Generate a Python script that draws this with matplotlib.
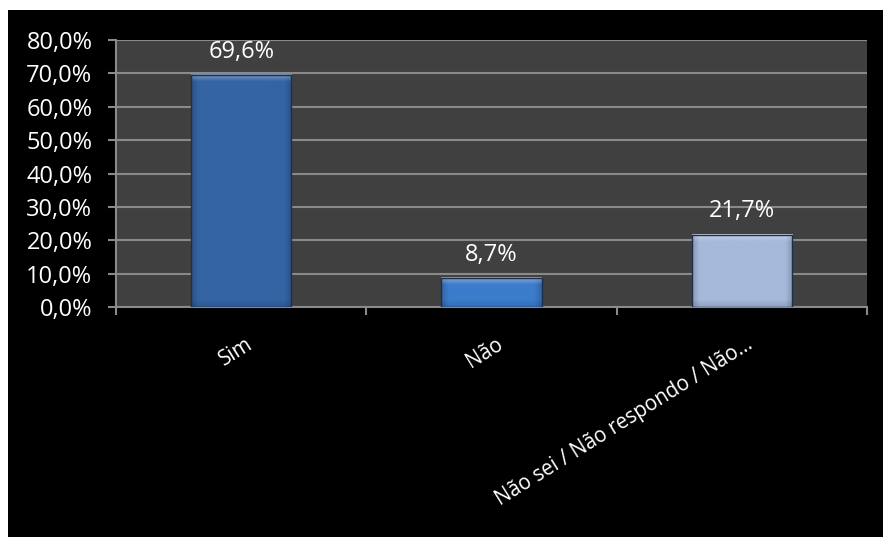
import numpy as np
import matplotlib
matplotlib.use("Agg")
import matplotlib.pyplot as plt
import matplotlib.transforms as mtransforms
from matplotlib.patches import Rectangle
from matplotlib.ticker import FuncFormatter, FixedLocator

plt.rcParams['font.family'] = ['Open Sans', 'DejaVu Sans']

# data
categories = ["Sim", "Não", "Não sei / Não respondo / Não…"]
values = [69.6, 8.7, 21.7]
bar_colors = ["#3464a3", "#3c7ccc", "#a6b9da"]

W, H, DPI = 883, 537, 100
fig = plt.figure(figsize=(W / DPI, H / DPI), dpi=DPI, facecolor="white")

# black chart area with thin white margin on top/left
bg = Rectangle((8 / W, 0), 1 - 8 / W, (H - 10) / H, transform=fig.transFigure,
               facecolor="black", edgecolor="none", zorder=-10)
fig.add_artist(bg)

ax = fig.add_axes([116 / W, 1 - 307 / H, (867 - 116) / W, (307 - 40) / H])
ax.set_facecolor("#404040")

x = np.arange(len(categories))
bars = ax.bar(x, values, width=0.4, color=bar_colors, zorder=3)

ax.set_xlim(-0.5, len(categories) - 0.5)
ax.set_ylim(0, 80)
ax.set_yticks(np.arange(0, 81, 10))
ax.yaxis.set_major_formatter(FuncFormatter(lambda v, p: f"{v:.1f}%".replace(".", ",")))
ax.grid(axis="y", color="#8a8a8a", linewidth=1.5, zorder=1)
ax.set_axisbelow(True)

for s in ["top", "right"]:
    ax.spines[s].set_visible(False)
for s in ["left", "bottom"]:
    ax.spines[s].set_color("#8a8a8a")
    ax.spines[s].set_linewidth(1.5)

ax.tick_params(axis="y", colors="#8a8a8a", labelcolor="white", labelsize=17,
               length=6, width=1.5, pad=11)
ax.set_xticks(x)
ax.set_xticklabels(categories, rotation=32, ha="right", rotation_mode="anchor",
                   color="white", fontsize=14.8)
ax.tick_params(axis="x", which="major", length=0, pad=19)
ax.xaxis.set_minor_locator(FixedLocator(np.arange(-0.5, len(categories), 1.0)))
ax.tick_params(axis="x", which="minor", colors="#8a8a8a", length=6, width=1.5)
shift = mtransforms.ScaledTranslation(4 / DPI, 0, fig.dpi_scale_trans)
for lbl in ax.get_xticklabels():
    lbl.set_transform(lbl.get_transform() + shift)

# bevelled fill inside each bar
fig.canvas.draw()
for b, col in zip(bars, bar_colors):
    bb = b.get_window_extent()
    nx, ny = max(int(bb.width), 2), max(int(bb.height), 2)
    base = np.array(matplotlib.colors.to_rgb(col))
    bev = 7
    xx = np.arange(nx)
    yy = np.arange(ny)
    dx = np.minimum(xx, nx - 1 - xx)
    side = np.clip(1 - dx / bev, 0, 1)
    top = np.clip(1 - yy / bev, 0, 1)
    bot = np.clip(1 - (ny - 1 - yy) / bev, 0, 1)
    shade = np.ones((ny, nx))
    shade *= 1 - 0.18 * side[None, :]
    shade *= 1 - 0.12 * bot[:, None]
    light = 0.35 * top[:, None] * np.ones((ny, nx))
    img = np.ones((ny, nx, 3)) * base * shade[:, :, None]
    img = np.clip(img + (1 - img) * light[:, :, None], 0, 1)
    x0, x1 = b.get_x(), b.get_x() + b.get_width()
    ax.imshow(img, extent=[x0, x1, 0, b.get_height()], aspect="auto",
              zorder=4, interpolation="bilinear")
    ax.add_patch(Rectangle((x0, 0), b.get_width(), b.get_height(), fill=False,
                           edgecolor="#1e2f4a", linewidth=1.0, zorder=5))
ax.set_xlim(-0.5, len(categories) - 0.5)
ax.set_ylim(0, 80)

for xi, v in zip(x, values):
    ax.annotate(f"{v:.1f}%".replace(".", ","), (xi, v), xytext=(0, 8),
                textcoords="offset points", ha="center", va="bottom",
                color="white", fontsize=17, zorder=6)

fig.savefig("out.png", dpi=DPI, facecolor="white")
